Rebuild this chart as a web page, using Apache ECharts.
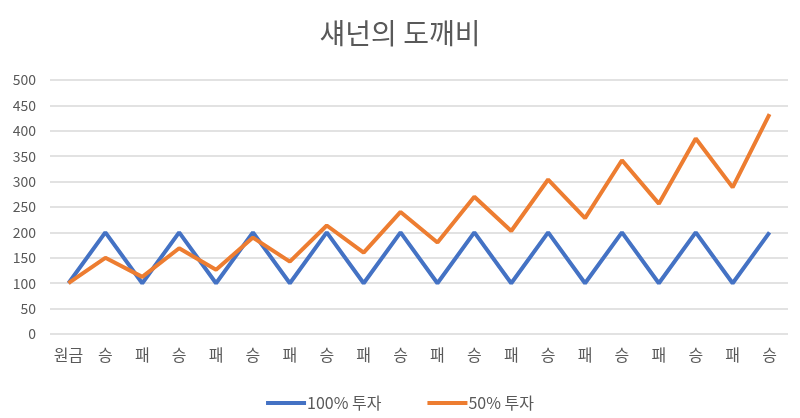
<!DOCTYPE html>
<html><head><meta charset="utf-8">
<script src="https://cdn.jsdelivr.net/npm/echarts@6/dist/echarts.min.js"></script>
<style>html,body{margin:0;padding:0;background:#fff}#c{width:800px;height:418px}</style>
</head><body><div id="c"></div>
<script>
const categories = ['원금','승','패','승','패','승','패','승','패','승','패','승','패','승','패','승','패','승','패','승'];
const full = [100,200,100,200,100,200,100,200,100,200,100,200,100,200,100,200,100,200,100,200];
const half = [100,150,112.5,168.8,126.6,189.8,142.4,213.6,160.2,240.3,180.2,270.3,202.7,304.1,228.1,342.1,256.6,384.9,288.7,433.0];
const yTicks = [0,50,100,150,200,250,300,350,400,450,500];
const font = '"Noto Sans CJK KR", "Noto Sans", sans-serif';
const chart = echarts.init(document.getElementById('c'));
chart.setOption({
  animation:false,
  textStyle:{fontFamily:font},
  title:{text:'섀넌의 도깨비',left:'center',top:14,textStyle:{fontFamily:font,fontSize:28,fontWeight:'normal',color:'#595959'}},
  grid:{left:50,right:12,top:80,bottom:84},
  legend:{bottom:2,left:'center',itemWidth:40,itemHeight:4,itemGap:46,icon:'rect',
    textStyle:{fontFamily:font,fontSize:16,color:'#595959',padding:[0,0,0,-4]},
    data:['100% 투자','50% 투자']},
  xAxis:{type:'category',data:categories,boundaryGap:true,
    axisLine:{show:false},axisTick:{show:false},
    axisLabel:{color:'#595959',fontSize:16,margin:13,interval:0}},
  yAxis:{type:'value',min:yTicks[0],max:yTicks[yTicks.length-1],interval:50,
    axisLabel:{color:'#595959',fontSize:14,margin:14},
    splitLine:{lineStyle:{color:'#d9d9d9',width:1.5}}},
  series:[
    {name:'100% 투자',type:'line',data:full,symbol:'none',lineStyle:{color:'#4472C4',width:4},itemStyle:{color:'#4472C4'}},
    {name:'50% 투자',type:'line',data:half,symbol:'none',lineStyle:{color:'#ED7D31',width:4},itemStyle:{color:'#ED7D31'}}
  ]
});
</script></body></html>
